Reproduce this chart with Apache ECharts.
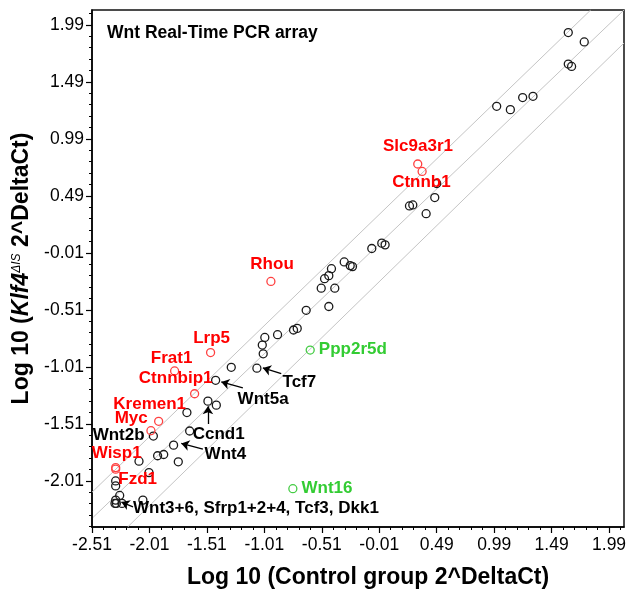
<!DOCTYPE html>
<html><head><meta charset="utf-8">
<script src="https://cdn.jsdelivr.net/npm/echarts@6/dist/echarts.min.js"></script>
<style>html,body{margin:0;padding:0;background:#fff}#c{width:628px;height:591px}</style>
</head><body><div id="c"></div>
<script>
// ---- axis ticks ----
const xTicks = [-2.51,-2.01,-1.51,-1.01,-0.51,-0.01,0.49,0.99,1.49,1.99];
const yTicks = [-2.01,-1.51,-1.01,-0.51,-0.01,0.49,0.99,1.49,1.99];
const xRange = [-2.51, 2.12];
const yRange = [-2.415, 2.12];

// ---- data points [x, y] ----
const blackPoints = [
  [1.635,1.922],[1.774,1.84],[1.635,1.646],[1.664,1.625],[1.012,1.275],[1.131,1.246],[1.238,1.352],[1.328,1.363],
  [0.473,0.475],[0.49,0.598],[0.253,0.401],[0.282,0.41],[0.398,0.333],[0.012,0.075],[0.041,0.06],[-0.075,0.028],
  [-0.315,-0.09],[-0.263,-0.122],[-0.243,-0.131],[-0.426,-0.149],[-0.449,-0.21],[-0.486,-0.237],[-0.515,-0.32],
  [-0.397,-0.32],[-0.449,-0.481],[-0.646,-0.514],
  [-0.756,-0.687],[-0.724,-0.673],[-0.895,-0.728],[-1.006,-0.752],[-1.028,-0.819],[-1.02,-0.896],[-1.075,-1.022],
  [-1.298,-1.014],[-1.434,-1.128],[-1.501,-1.311],[-1.428,-1.346],[-1.684,-1.411],[-1.976,-1.617],[-1.66,-1.573],
  [-1.8,-1.697],[-1.939,-1.79],[-1.886,-1.779],[-2.101,-1.838],[-1.759,-1.843],[-2.014,-1.938],
  [-2.304,-2.011],[-2.304,-2.055],[-2.269,-2.138],[-2.304,-2.179],[-2.31,-2.208],[-2.298,-2.208],[-2.249,-2.208],
  [-2.067,-2.179]
];
const redPoints = [
  [0.325,0.769],[0.363,0.704],[-0.953,-0.261],[-1.478,-0.885],[-1.791,-1.046],[-1.617,-1.246],
  [-1.93,-1.488],[-1.997,-1.57],[-2.304,-1.894],[-2.304,-1.908]
];
const greenPoints = [[-0.611,-0.863],[-0.762,-2.079]];

// ---- reference lines (endpoints) ----
const refLines = [
  [[-2.51,-2.11],[1.83,2.12]],
  [[-2.50,-2.33],[2.12,2.12]],
  [[-2.20,-2.415],[2.12,1.83]]
];

// ---- annotations ----
const labelTexts = ['Slc9a3r1','Ctnnb1','Rhou','Lrp5','Frat1','Ctnnbip1','Kremen1','Myc','Wnt2b','Wisp1','Fzd1',
  'Wnt3+6, Sfrp1+2+4, Tcf3, Dkk1','Ccnd1','Wnt4','Wnt5a','Tcf7','Ppp2r5d','Wnt16'];
const labelX = [0.327,0.357,-0.943,-1.469,-1.817,-1.782,-2.008,-2.169,-2.278,-2.295,-2.113,-2.153,-1.634,-1.53,-1.243,-0.852,-0.536,-0.687];
const labelY = [0.922,0.607,-0.108,-0.761,-0.938,-1.108,-1.335,-1.458,-1.614,-1.77,-1.997,-2.255,-1.605,-1.78,-1.291,-1.143,-0.855,-2.079];
const labelColor = ['r','r','r','r','r','r','r','r','k','r','r','k','k','k','k','k','g','g'];
const labelAlign = ['center','center','center','center','center','center','center','center','center','center','center',
  'left','left','left','left','left','left','left'];

// ---- arrows [x1, y1, x2, y2] (head at second point) ----
const arrows = [
  [-0.863,-1.07,-1.023,-1.02],
  [-1.197,-1.194,-1.385,-1.143],
  [-1.501,-1.511,-1.501,-1.355],
  [-1.545,-1.732,-1.733,-1.682],
  [-2.153,-2.238,-2.254,-2.196]
];

const colors = {r:'#ff0000', k:'#000000', g:'#33cc33'};
const FONT = 'Liberation Sans, Arial, Helvetica, sans-serif';

function minorTicks(majors, range) {
  const out = [];
  const start = majors[0];
  for (let k = -10; k < 60; k++) {
    const v = Math.round((start + k * 0.1) * 1000) / 1000;
    if (v < range[0] - 1e-6 || v > range[1] + 1e-6) continue;
    if (majors.some(m => Math.abs(m - v) < 1e-6)) continue;
    out.push(v);
  }
  return out;
}

const chart = echarts.init(document.getElementById('c'));
const axisCommon = {type: 'value', splitLine: {show: false}};
const option = {
  animation: false,
  backgroundColor: '#fff',
  textStyle: {fontFamily: FONT},
  title: {text: 'Wnt Real-Time PCR array', left: 107, top: 24, padding: 0,
    textStyle: {fontSize: 17.5, fontWeight: 'bold', color: '#000', fontFamily: FONT}},
  grid: {left: 92, right: 4, top: 10, bottom: 64, show: true, borderColor: '#111', borderWidth: 1.5, outerBoundsMode: 'none'},
  xAxis: [
    Object.assign({}, axisCommon, {
      min: xRange[0], max: xRange[1], position: 'bottom',
      axisLine: {show: true, onZero: false, lineStyle: {color: '#000', width: 1.5}},
      axisTick: {show: true, customValues: xTicks, length: 6, lineStyle: {color: '#000', width: 1.2}},
      axisLabel: {customValues: xTicks, formatter: v => v.toFixed(2), fontSize: 17.5, color: '#000', margin: 9, fontFamily: FONT},
      name: 'Log 10 (Control group 2^DeltaCt)', nameLocation: 'middle', nameGap: 39,
      nameTextStyle: {fontSize: 23, fontWeight: 'bold', color: '#000', fontFamily: FONT, padding: [0, 0, 0, 20]}
    }),
    Object.assign({}, axisCommon, {
      min: xRange[0], max: xRange[1], position: 'bottom', offset: 0,
      axisLine: {show: false, onZero: false},
      axisTick: {show: true, customValues: minorTicks(xTicks, xRange), length: 3, lineStyle: {color: '#000', width: 1}},
      axisLabel: {show: false}
    })
  ],
  yAxis: [
    Object.assign({}, axisCommon, {
      min: yRange[0], max: yRange[1], position: 'left',
      axisLine: {show: true, onZero: false, lineStyle: {color: '#000', width: 1.5}},
      axisTick: {show: true, customValues: yTicks, length: 6, lineStyle: {color: '#000', width: 1.2}},
      axisLabel: {customValues: yTicks, formatter: v => v.toFixed(2), fontSize: 17.5, color: '#000', margin: 8, fontFamily: FONT},
      name: '{a|Log 10 (}{i|Klf4}{s|ΔIS}{a| 2^DeltaCt)}', nameLocation: 'middle', nameGap: 53,
      nameTextStyle: {fontSize: 23, fontWeight: 'bold', color: '#000', fontFamily: FONT,
        rich: {
          a: {fontSize: 23, fontWeight: 'bold', color: '#000', fontFamily: FONT},
          i: {fontSize: 23, fontWeight: 'bold', fontStyle: 'italic', color: '#000', fontFamily: FONT},
          s: {fontSize: 12, fontStyle: 'italic', fontWeight: 'normal', color: '#000', fontFamily: FONT, verticalAlign: 'top', padding: [0, 0, 10, 0]}
        }}
    }),
    Object.assign({}, axisCommon, {
      min: yRange[0], max: yRange[1], position: 'left', offset: 0,
      axisLine: {show: false, onZero: false},
      axisTick: {show: true, customValues: minorTicks(yTicks, yRange), length: 3, lineStyle: {color: '#000', width: 1}},
      axisLabel: {show: false}
    })
  ],
  series: [
    ...refLines.map(l => ({
      type: 'line', data: l, symbol: 'none', silent: true, z: 1,
      lineStyle: {color: '#c4c4c4', width: 1}
    })),
    {type: 'scatter', data: blackPoints, symbol: 'circle', symbolSize: 8, silent: true, z: 3,
      itemStyle: {color: 'rgba(0,0,0,0)', borderColor: '#1a1a1a', borderWidth: 1.3, opacity: 1}},
    {type: 'scatter', data: redPoints, symbol: 'circle', symbolSize: 8, silent: true, z: 3,
      itemStyle: {color: 'rgba(0,0,0,0)', borderColor: '#ff4040', borderWidth: 1.3, opacity: 1}},
    {type: 'scatter', data: greenPoints, symbol: 'circle', symbolSize: 8, silent: true, z: 3,
      itemStyle: {color: 'rgba(0,0,0,0)', borderColor: '#44cc44', borderWidth: 1.3, opacity: 1}},
    {type: 'lines', coordinateSystem: 'cartesian2d', silent: true, z: 4,
      symbol: ['none', 'arrow'], symbolSize: 8,
      lineStyle: {color: '#000', width: 1.3, opacity: 1},
      data: arrows.map(a => ({coords: [[a[0], a[1]], [a[2], a[3]]]}))},
    {type: 'scatter', symbolSize: 0, silent: true, z: 5, itemStyle: {opacity: 1},
      data: labelTexts.map((t, i) => ({
        value: [labelX[i], labelY[i]],
        label: {show: true, formatter: t, color: colors[labelColor[i]], position: 'inside', align: labelAlign[i],
          verticalAlign: 'middle', fontSize: 17, fontWeight: 'bold', fontFamily: FONT}
      }))}
  ]
};
chart.setOption(option);
</script>
</body></html>
